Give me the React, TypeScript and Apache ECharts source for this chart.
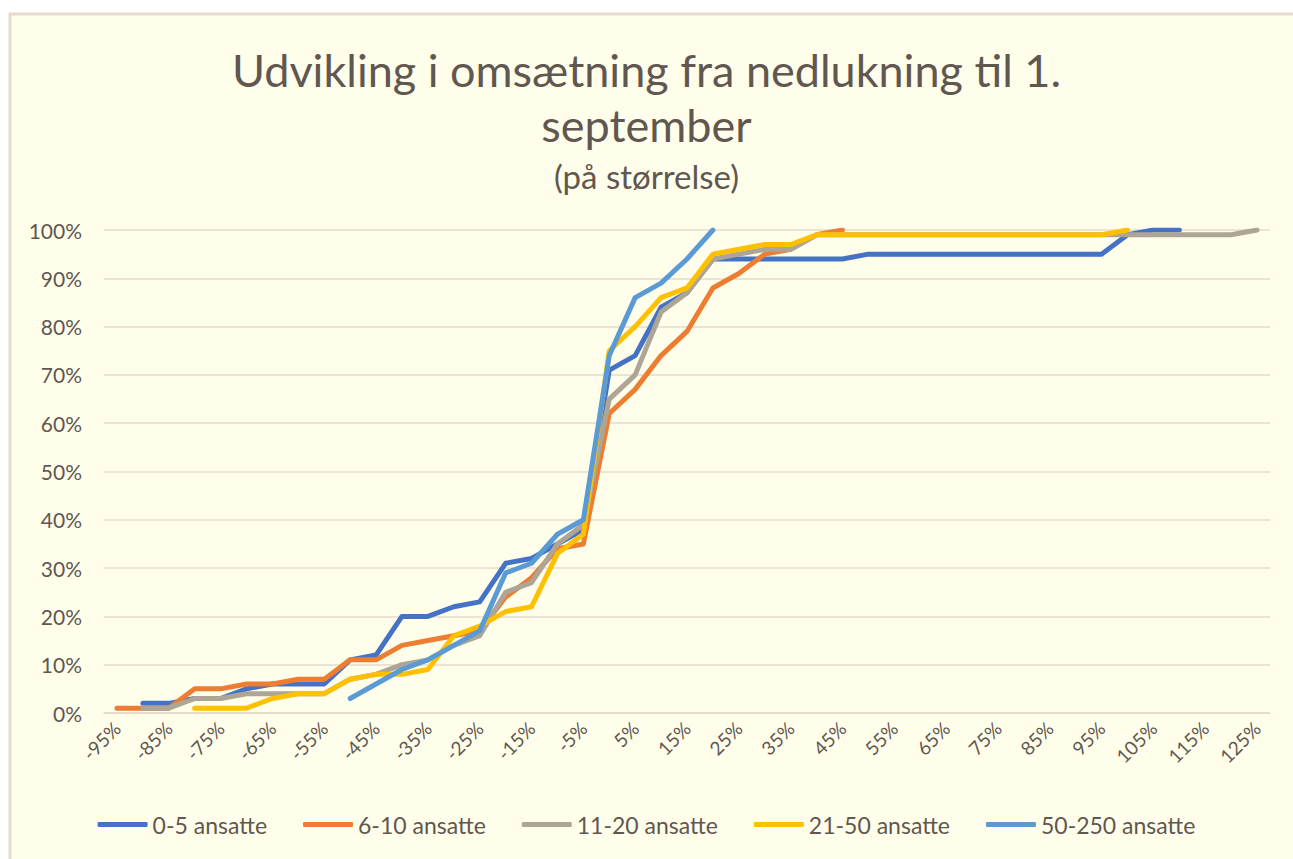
import React, { useEffect, useRef } from "react";
import * as echarts from "echarts";

const categories: string[] = [
  "-95%", "-90%", "-85%", "-80%", "-75%", "-70%", "-65%", "-60%", "-55%", "-50%",
  "-45%", "-40%", "-35%", "-30%", "-25%", "-20%", "-15%", "-10%", "-5%", "0%",
  "5%", "10%", "15%", "20%", "25%", "30%", "35%", "40%", "45%", "50%",
  "55%", "60%", "65%", "70%", "75%", "80%", "85%", "90%", "95%", "100%",
  "105%", "110%", "115%", "120%", "125%",
];

const _ = null;

const s0_5: (number | null)[] = [
  _, 2, 2, 3, 3, 5, 6, 6, 6, 11,
  12, 20, 20, 22, 23, 31, 32, 35, 38, 71,
  74, 84, 87, 94, 94, 94, 94, 94, 94, 95,
  95, 95, 95, 95, 95, 95, 95, 95, 95, 99,
  100, 100, _, _, _,
];

const s6_10: (number | null)[] = [
  1, 1, 1, 5, 5, 6, 6, 7, 7, 11,
  11, 14, 15, 16, 17, 24, 28, 34, 35, 62,
  67, 74, 79, 88, 91, 95, 96, 99, 100, _,
  _, _, _, _, _, _, _, _, _, _,
  _, _, _, _, _,
];

const s11_20: (number | null)[] = [
  _, 1, 1, 3, 3, 4, 4, 4, 4, 7,
  8, 10, 11, 14, 16, 25, 27, 35, 39, 65,
  70, 83, 87, 94, 95, 96, 96, 99, 99, 99,
  99, 99, 99, 99, 99, 99, 99, 99, 99, 99,
  99, 99, 99, 99, 100,
];

const s21_50: (number | null)[] = [
  _, _, _, 1, 1, 1, 3, 4, 4, 7,
  8, 8, 9, 16, 18, 21, 22, 33, 37, 75,
  80, 86, 88, 95, 96, 97, 97, 99, 99, 99,
  99, 99, 99, 99, 99, 99, 99, 99, 99, 100,
  _, _, _, _, _,
];

const s50_250: (number | null)[] = [
  _, _, _, _, _, _, _, _, _, 3,
  6, 9, 11, 14, 17, 29, 31, 37, 40, 74,
  86, 89, 94, 100, _, _, _, _, _, _,
  _, _, _, _, _, _, _, _, _, _,
  _, _, _, _, _,
];

const seriesNames = ["0-5 ansatte", "6-10 ansatte", "11-20 ansatte", "21-50 ansatte", "50-250 ansatte"];
const seriesData = [s0_5, s6_10, s11_20, s21_50, s50_250];
const colors = ["#4472C4", "#ED7D31", "#ADA596", "#FFC000", "#5B9BD5"];

const titleText = "Udvikling i omsætning fra nedlukning til 1.\nseptember";
const subtitleText = "(på størrelse)";

const FONT = "Lato, 'Open Sans', sans-serif";
const TEXT_COLOR = "#5f5750";

export default function App() {
  const ref = useRef<HTMLDivElement>(null);

  useEffect(() => {
    if (!ref.current) return;
    const chart = echarts.init(ref.current, null, { renderer: "svg" });
    chart.setOption({
      animation: false,
      backgroundColor: "#ffffff",
      textStyle: { fontFamily: FONT },
      graphic: [
        {
          type: "rect",
          z: -10,
          silent: true,
          shape: { x: 10, y: 14, width: 1290, height: 860 },
          style: { fill: "#FFFEEB", stroke: "#E6DBCB", lineWidth: 3 },
        },
      ],
      title: [
        {
          text: titleText,
          left: "center",
          top: 37,
          textStyle: {
            fontFamily: FONT,
            fontSize: 45,
            fontWeight: "normal",
            color: TEXT_COLOR,
            lineHeight: 55,
            align: "center",
          },
        },
        {
          text: subtitleText,
          left: "center",
          top: 154,
          textStyle: {
            fontFamily: FONT,
            fontSize: 33,
            fontWeight: "normal",
            color: TEXT_COLOR,
          },
        },
      ],
      legend: {
        bottom: 18,
        left: "center",
        itemWidth: 50,
        itemHeight: 5,
        itemGap: 36,
        icon: "roundRect",
        textStyle: { fontFamily: FONT, fontSize: 23, color: TEXT_COLOR },
        data: seriesNames,
      },
      grid: { left: 104, right: 23, top: 230, bottom: 146 },
      xAxis: {
        type: "category",
        data: categories,
        boundaryGap: true,
        axisLine: { show: true, lineStyle: { color: "#E4DACD", width: 1.5 } },
        axisTick: { show: false },
        axisLabel: {
          interval: 1,
          rotate: 45,
          margin: 12,
          fontFamily: FONT,
          fontSize: 19,
          color: TEXT_COLOR,
        },
      },
      yAxis: {
        type: "value",
        min: 0,
        max: 100,
        interval: 10,
        axisLine: { show: false },
        axisTick: { show: false },
        axisLabel: {
          formatter: "{value}%",
          margin: 22,
          fontFamily: FONT,
          fontSize: 21,
          color: TEXT_COLOR,
        },
        splitLine: { lineStyle: { color: "#E4DACD", width: 1.5 } },
      },
      series: seriesData.map((d, i) => ({
        name: seriesNames[i],
        type: "line",
        data: d,
        symbol: "none",
        connectNulls: false,
        color: colors[i],
        lineStyle: { width: 5, color: colors[i], cap: "round", join: "round" },
      })),
    });
    return () => chart.dispose();
  }, []);

  return (
    <div
      ref={ref}
      style={{ position: "absolute", left: 0, top: 0, width: 1293, height: 859 }}
    />
  );
}
